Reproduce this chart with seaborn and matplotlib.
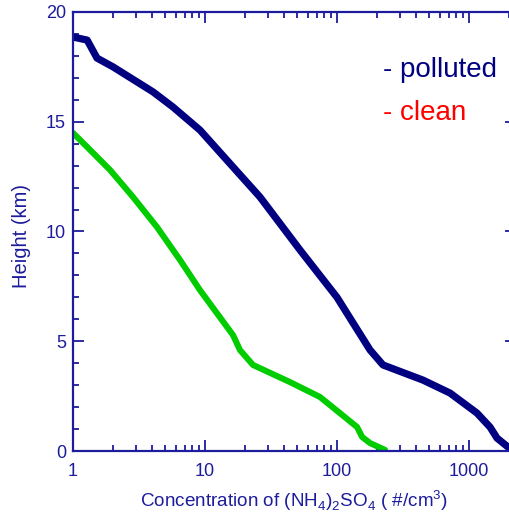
import numpy as np
import pandas as pd
import matplotlib
matplotlib.use('Agg')
import matplotlib.pyplot as plt
import seaborn as sns

# ── Data ──────────────────────────────────────────────────────
polluted_conc = [1.0, 1.28, 1.52, 2.01, 4.04, 5.72, 9.16, 16.3, 26.1, 52.4,
                 100, 178, 223, 448, 718, 1148, 1443, 1629, 1974]
polluted_height = [18.86, 18.72, 17.9, 17.5, 16.36, 15.67, 14.62, 12.94, 11.57, 9.16,
                   7.0, 4.6, 3.92, 3.23, 2.64, 1.73, 1.09, 0.59, 0.18]
clean_conc = [1.0, 1.28, 1.91, 2.85, 4.33, 6.47, 9.16, 16.3, 18.4, 23.1,
              44.0, 74.3, 105, 142, 155, 178, 231]
clean_height = [14.49, 13.85, 12.8, 11.57, 10.2, 8.7, 7.33, 5.28, 4.6, 3.92,
                3.14, 2.46, 1.73, 1.09, 0.64, 0.36, 0.05]

# ── Palette ──────────────────────────────────────────────────
NAVY  = '#000080'
AXIS  = '#1c1c9c'
GREEN = '#00cc00'
RED   = '#ff0000'

sns.set_style('ticks')
plt.rcParams['font.family'] = ['Liberation Sans', 'DejaVu Sans']
plt.rcParams['mathtext.fontset'] = 'custom'
plt.rcParams['mathtext.rm'] = 'Liberation Sans'

df = pd.concat([
    pd.DataFrame({'conc': polluted_conc, 'height': polluted_height, 'case': 'polluted'}),
    pd.DataFrame({'conc': clean_conc, 'height': clean_height, 'case': 'clean'}),
])

fig = plt.figure(figsize=(5.09, 5.13), dpi=100)
ax = fig.add_axes([73/509, 62/513, (516-73)/509, (451-12)/513])

sns.lineplot(data=df[df.case == 'polluted'], x='conc', y='height', ax=ax,
             sort=False, estimator=None, color=NAVY, linewidth=5.2)
sns.lineplot(data=df[df.case == 'clean'], x='conc', y='height', ax=ax,
             sort=False, estimator=None, color=GREEN, linewidth=4.4)

ax.set_xscale('log')
ax.set_xlim(1, 10**3.356)
ax.set_ylim(0, 20)
ax.set_yticks([0, 5, 10, 15, 20])
ax.set_yticks(np.arange(0, 21, 1), minor=True)
ax.set_xticks([1, 10, 100, 1000])
ax.set_xticklabels(['1', '10', '100', '1000'])

for spine in ax.spines.values():
    spine.set_visible(True)
    spine.set_color(AXIS)
    spine.set_linewidth(1.6)
ax.tick_params(which='both', direction='in', top=True, right=True,
               colors=AXIS, labelcolor=AXIS, labelsize=13, width=1.3)
ax.tick_params(which='major', length=8)
ax.tick_params(axis='x', which='major', pad=9)
ax.tick_params(axis='y', which='major', pad=5)
ax.tick_params(which='minor', length=4.5)

ax.set_xlabel(r'Concentration of (NH$_4$)$_2$SO$_4$ ( #/cm$^3$)', color=AXIS,
              fontsize=13.6, va='center')
ax.set_ylabel('Height (km)', color=AXIS, fontsize=14.5, va='center')
ax.xaxis.set_label_coords(0.5, -0.114)
ax.yaxis.set_label_coords(-0.116, 0.49)

fig.text(383/509, 1 - 70/513, '- polluted', color=NAVY,
         fontsize=20, va='center', ha='left')
fig.text(383/509, 1 - 113/513, '- clean', color=RED,
         fontsize=20, va='center', ha='left')

fig.savefig('out.png', dpi=100, facecolor='white')
